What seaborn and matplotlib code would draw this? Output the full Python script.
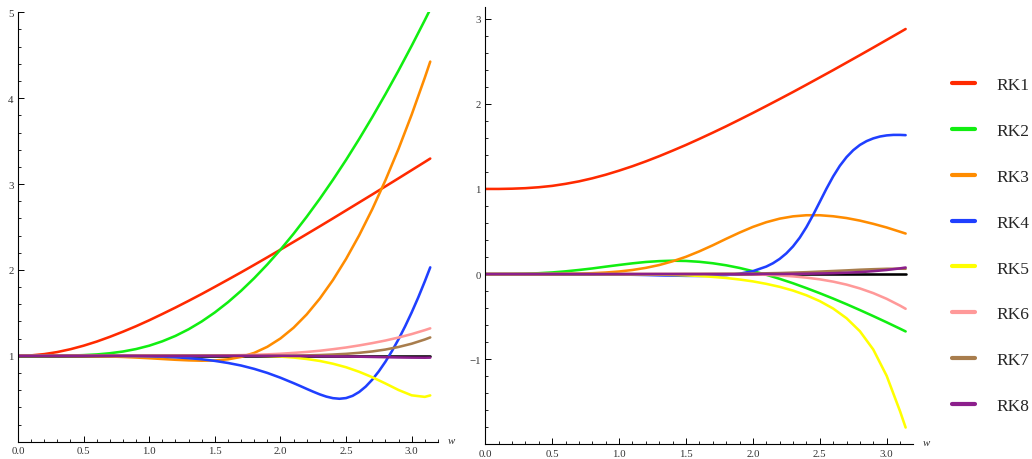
import matplotlib
matplotlib.use("Agg")
import matplotlib.pyplot as plt
import numpy as np
import pandas as pd
import seaborn as sns
from matplotlib.ticker import FixedLocator, MultipleLocator

# ---------------- data ----------------
W = [0.0, 0.1, 0.2, 0.3, 0.4, 0.5, 0.6, 0.7, 0.8, 0.9,
     1.0, 1.1, 1.2, 1.3, 1.4, 1.5, 1.6, 1.7, 1.8, 1.9,
     2.0, 2.1, 2.2, 2.3, 2.4, 2.5, 2.6, 2.7, 2.8, 2.9,
     3.0, 3.1, 3.1416]

W4 = [0.0, 0.1, 0.2, 0.3, 0.4, 0.5, 0.6, 0.7, 0.8, 0.9,
      1.0, 1.1, 1.2, 1.3, 1.4, 1.5, 1.6, 1.7, 1.8, 1.9,
      2.0, 2.1, 2.15, 2.2, 2.25, 2.3, 2.35, 2.4, 2.45, 2.5, 2.55, 2.6,
      2.65, 2.7, 2.75, 2.8, 2.85, 2.9, 2.95, 3.0, 3.05, 3.1, 3.1416]

W_EXACT = [0.0, 3.1416]
EXACT_AMP = [1.0, 1.0]
EXACT_PH = [0.0, 0.0]

# left panel: amplification
RK1_AMP = [1.000, 1.005, 1.020, 1.044, 1.077, 1.118, 1.166, 1.221, 1.281, 1.345,
           1.414, 1.487, 1.562, 1.640, 1.720, 1.803, 1.887, 1.972, 2.059, 2.147,
           2.236, 2.326, 2.417, 2.508, 2.600, 2.693, 2.786, 2.879, 2.973, 3.067,
           3.162, 3.257, 3.297]
RK2_AMP = [1.000, 1.000, 1.000, 1.001, 1.003, 1.008, 1.016, 1.030, 1.050, 1.079,
           1.118, 1.169, 1.232, 1.309, 1.400, 1.505, 1.624, 1.757, 1.904, 2.064,
           2.236, 2.421, 2.619, 2.828, 3.049, 3.281, 3.525, 3.780, 4.046, 4.322,
           4.610, 4.908, 5.035]
RK3_AMP = [1.000, 1.000, 1.000, 1.000, 0.999, 0.998, 0.995, 0.992, 0.987, 0.980,
           0.972, 0.963, 0.954, 0.947, 0.943, 0.946, 0.959, 0.987, 1.034, 1.105,
           1.202, 1.327, 1.482, 1.667, 1.882, 2.128, 2.403, 2.708, 3.044, 3.410,
           3.808, 4.238, 4.426]
RK4_AMP = [1.000, 1.000, 1.000, 1.000, 1.000, 1.000, 1.000, 0.999, 0.998, 0.997,
           0.994, 0.990, 0.983, 0.973, 0.960, 0.941, 0.917, 0.887, 0.848, 0.801,
           0.745, 0.682, 0.649, 0.615, 0.582, 0.551, 0.525, 0.507, 0.500, 0.508,
           0.534, 0.579, 0.642, 0.723, 0.820, 0.931, 1.056, 1.193, 1.343, 1.505,
           1.679, 1.866, 2.030]
RK5_AMP = [1.000, 1.000, 1.000, 1.000, 1.000, 1.000, 1.000, 1.000, 1.000, 1.000,
           1.001, 1.001, 1.002, 1.003, 1.004, 1.004, 1.005, 1.004, 1.002, 0.998,
           0.991, 0.980, 0.963, 0.940, 0.908, 0.867, 0.814, 0.751, 0.678, 0.602,
           0.540, 0.522, 0.539]
RK6_AMP = [1.000, 1.000, 1.000, 1.000, 1.000, 1.000, 1.000, 1.000, 1.000, 1.000,
           1.000, 1.000, 1.001, 1.001, 1.002, 1.003, 1.005, 1.008, 1.012, 1.017,
           1.024, 1.034, 1.045, 1.059, 1.077, 1.097, 1.121, 1.148, 1.178, 1.213,
           1.253, 1.299, 1.320]
RK7_AMP = [1.000, 1.000, 1.000, 1.000, 1.000, 1.000, 1.000, 1.000, 1.000, 1.000,
           1.000, 1.000, 1.000, 1.000, 1.000, 1.000, 1.000, 1.000, 1.000, 1.001,
           1.001, 1.003, 1.005, 1.009, 1.015, 1.023, 1.035, 1.051, 1.073, 1.103,
           1.141, 1.190, 1.214]
RK8_AMP = [1.000, 1.000, 1.000, 1.000, 1.000, 1.000, 1.000, 1.000, 1.000, 1.000,
           1.000, 1.000, 1.000, 1.000, 1.000, 1.000, 1.000, 1.000, 0.999, 0.999,
           0.999, 0.998, 0.997, 0.996, 0.994, 0.992, 0.990, 0.987, 0.984, 0.981,
           0.979, 0.978, 0.979]

# right panel: phase
RK1_PH = [1.000, 1.000, 1.003, 1.009, 1.020, 1.036, 1.060, 1.089, 1.125, 1.167,
          1.215, 1.267, 1.324, 1.385, 1.450, 1.517, 1.588, 1.661, 1.736, 1.814,
          1.893, 1.974, 2.056, 2.139, 2.224, 2.310, 2.396, 2.484, 2.572, 2.661,
          2.751, 2.841, 2.879]
RK2_PH = [0.000, 0.000, 0.001, 0.004, 0.010, 0.019, 0.032, 0.048, 0.066, 0.087,
          0.107, 0.126, 0.142, 0.152, 0.157, 0.154, 0.144, 0.127, 0.103, 0.072,
          0.034, -0.008, -0.056, -0.108, -0.165, -0.225, -0.288, -0.354, -0.423, -0.494,
          -0.567, -0.642, -0.674]
RK3_PH = [0.000, 0.000, 0.000, 0.000, 0.000, 0.001, 0.003, 0.005, 0.010, 0.018,
          0.030, 0.048, 0.073, 0.106, 0.150, 0.203, 0.267, 0.338, 0.414, 0.487,
          0.554, 0.609, 0.651, 0.678, 0.691, 0.691, 0.679, 0.658, 0.628, 0.590,
          0.547, 0.497, 0.476]
RK4_PH = [0.000, 0.000, 0.000, 0.000, -0.000, -0.000, -0.001, -0.001, -0.002, -0.004,
          -0.006, -0.008, -0.011, -0.015, -0.018, -0.021, -0.022, -0.020, -0.012, 0.004,
          0.034, 0.088, 0.127, 0.178, 0.243, 0.325, 0.427, 0.551, 0.694, 0.848,
          1.003, 1.147, 1.272, 1.374, 1.455, 1.517, 1.562, 1.594, 1.616, 1.629,
          1.635, 1.635, 1.632]
RK5_PH = [0.000, 0.000, 0.000, 0.000, 0.000, 0.000, 0.000, 0.000, 0.000, -0.001,
          -0.001, -0.002, -0.004, -0.006, -0.010, -0.015, -0.022, -0.033, -0.046, -0.064,
          -0.086, -0.115, -0.150, -0.194, -0.249, -0.318, -0.405, -0.519, -0.672, -0.887,
          -1.196, -1.612, -1.803]
RK6_PH = [0.000, 0.000, 0.000, 0.000, 0.000, 0.000, 0.000, 0.000, 0.000, 0.000,
          0.000, 0.000, 0.000, 0.001, 0.001, 0.001, 0.001, 0.001, 0.000, -0.002,
          -0.004, -0.009, -0.016, -0.027, -0.042, -0.062, -0.089, -0.124, -0.169, -0.224,
          -0.291, -0.371, -0.408]
RK7_PH = [0.000, 0.000, 0.000, 0.000, 0.000, 0.000, 0.000, 0.000, 0.000, 0.000,
          0.000, 0.000, 0.000, 0.000, 0.000, 0.001, 0.001, 0.002, 0.003, 0.004,
          0.006, 0.009, 0.012, 0.017, 0.022, 0.029, 0.036, 0.043, 0.051, 0.057,
          0.062, 0.063, 0.062]
RK8_PH = [0.000, 0.000, 0.000, 0.000, 0.000, 0.000, 0.000, 0.000, 0.000, 0.000,
          0.000, 0.000, 0.000, 0.000, 0.000, 0.000, 0.000, 0.000, 0.000, 0.000,
          0.000, 0.001, 0.001, 0.002, 0.004, 0.007, 0.010, 0.016, 0.023, 0.034,
          0.048, 0.067, 0.077]

METHODS = ["RK1", "RK2", "RK3", "RK4", "RK5", "RK6", "RK7", "RK8"]
COLORS = ["#FF2A00", "#11EE11", "#FF8C00", "#1F3FFF",
          "#FFFF00", "#FF9999", "#A87D4D", "#8C1F8C"]

X_TICKS = [0.0, 0.5, 1.0, 1.5, 2.0, 2.5, 3.0]
X_LABELS = ["0.0", "0.5", "1.0", "1.5", "2.0", "2.5", "3.0"]
YL_TICKS = [1, 2, 3, 4, 5]
YL_LABELS = ["1", "2", "3", "4", "5"]
YR_TICKS = [-1, 0, 1, 2, 3]
YR_LABELS = ["\u22121", "0", "1", "2", "3"]

AMP = {"RK1": (W, RK1_AMP), "RK2": (W, RK2_AMP), "RK3": (W, RK3_AMP),
       "RK4": (W4, RK4_AMP), "RK5": (W, RK5_AMP), "RK6": (W, RK6_AMP),
       "RK7": (W, RK7_AMP), "RK8": (W, RK8_AMP)}
PH = {"RK1": (W, RK1_PH), "RK2": (W, RK2_PH), "RK3": (W, RK3_PH),
      "RK4": (W4, RK4_PH), "RK5": (W, RK5_PH), "RK6": (W, RK6_PH),
      "RK7": (W, RK7_PH), "RK8": (W, RK8_PH)}


def long_frame(d):
    rows = []
    for m, (xs, ys) in d.items():
        for x, y in zip(xs, ys):
            rows.append((m, x, y))
    return pd.DataFrame(rows, columns=["method", "w", "value"])


df_amp = long_frame(AMP)
df_ph = long_frame(PH)
df_ex_amp = pd.DataFrame({"w": W_EXACT, "value": EXACT_AMP})
df_ex_ph = pd.DataFrame({"w": W_EXACT, "value": EXACT_PH})

# ---------------- figure ----------------
sns.set_theme(style="white")
plt.rcParams["font.family"] = ["Liberation Serif", "DejaVu Serif"]

FW, FH = 1032, 460
fig = plt.figure(figsize=(FW / 100, FH / 100), dpi=100)
axL = fig.add_axes([18 / FW, (FH - 442.7) / FH, (438.3 - 18) / FW, (442.7 - 13.3) / FH])
axR = fig.add_axes([485.3 / FW, (FH - 445.3) / FH, (913.3 - 485.3) / FW, (445.3 - 8.3) / FH])

LW = 1.85
for ax, df, dfe in ((axL, df_amp, df_ex_amp), (axR, df_ph, df_ex_ph)):
    sns.lineplot(data=dfe, x="w", y="value", color="black", lw=LW, ax=ax,
                 estimator=None, sort=False)
    sns.lineplot(data=df, x="w", y="value", hue="method", hue_order=METHODS,
                 palette=COLORS, lw=LW, ax=ax, estimator=None, sort=False,
                 legend=(ax is axR))

axL.set_xlim(0, 3.203)
axL.set_ylim(0, 5.0)
axR.set_xlim(0, 3.199)
axR.set_ylim(-2.0, 3.134)

for ax, yt, yl in ((axL, YL_TICKS, YL_LABELS), (axR, YR_TICKS, YR_LABELS)):
    ax.set_xlabel("")
    ax.set_ylabel("")
    for s in ("top", "right"):
        ax.spines[s].set_visible(False)
    for s in ("left", "bottom"):
        ax.spines[s].set_color("black")
        ax.spines[s].set_linewidth(0.8)
    ax.xaxis.set_major_locator(FixedLocator(X_TICKS))
    ax.set_xticklabels(X_LABELS)
    ax.xaxis.set_minor_locator(MultipleLocator(0.1))
    ax.yaxis.set_major_locator(FixedLocator(yt))
    ax.set_yticklabels(yl)
    ax.yaxis.set_minor_locator(MultipleLocator(0.2))
    ax.tick_params(which="major", direction="in", length=4.2, width=0.7,
                   color="black", labelsize=7.8, labelcolor="#333333", pad=3.2)
    ax.tick_params(which="minor", direction="in", length=2.3, width=0.6,
                   color="black")
    ax.tick_params(axis="both", which="both", bottom=True, left=True,
                   top=False, right=False)
    ax.annotate("w", xy=(1, 0), xycoords="axes fraction", xytext=(13.5, 1.5),
                textcoords="offset pixels", fontsize=7.8, style="italic",
                color="#333333", ha="center", va="center")
    ax.set_facecolor("white")
    ax.patch.set_alpha(0)

handles, labels = axR.get_legend_handles_labels()
axR.get_legend().remove()
for h in handles:
    h.set_linewidth(3.0)
fig.legend(handles, labels, loc="upper left",
           bbox_to_anchor=(951.7 / FW, (FH - 78.0) / FH),
           frameon=False, fontsize=12.5, handlelength=1.33,
           handletextpad=1.25, labelspacing=1.71, borderpad=0,
           borderaxespad=0)

fig.savefig("out.png", dpi=100, facecolor="white")
